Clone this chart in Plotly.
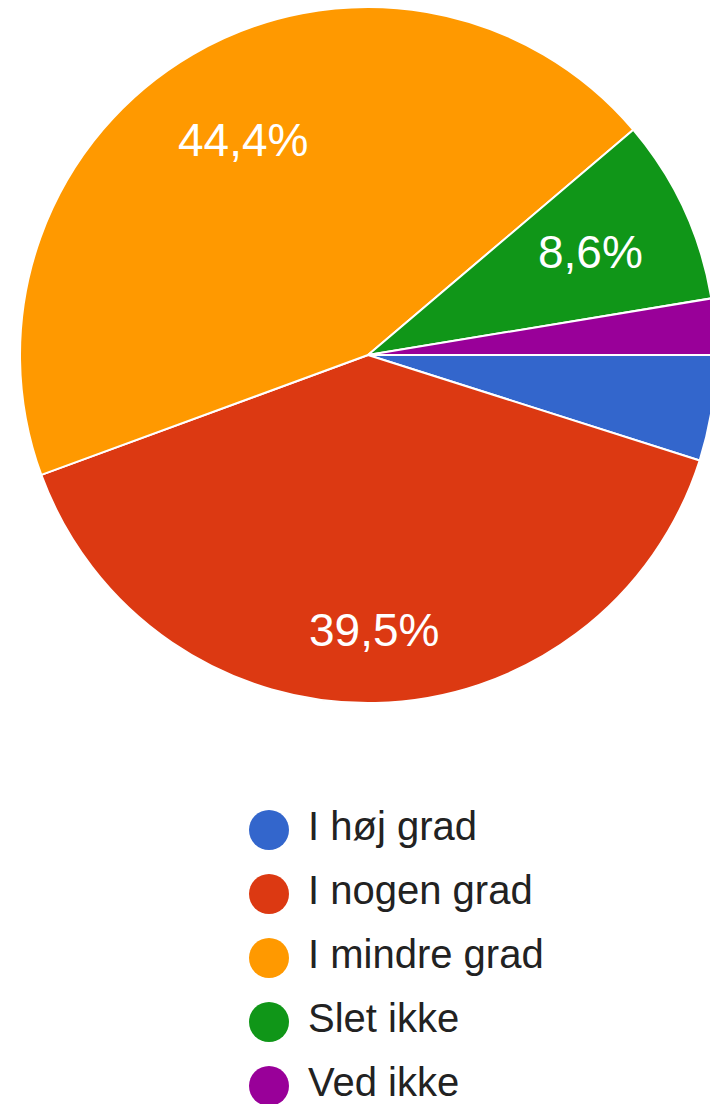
import math
import plotly.graph_objects as go

# Data
categories = ["I høj grad", "I nogen grad", "I mindre grad", "Slet ikke", "Ved ikke"]
values = [4.9, 39.5, 44.4, 8.6, 2.6]
colors = ["#3366CC", "#DC3912", "#FF9900", "#109618", "#990099"]

FONT = "Arial, 'Liberation Sans', Arimo, sans-serif"

# Page body margin is removed (see post_script), so window px == figure px.
OFF = 0
FW, FH = 720, 1104          # figure a bit wider than window: pie is cropped on the right
total = sum(values)

# Pie geometry in window pixels
cx, cy, r = 368, 355, 348
fx, fy = cx - OFF, cy - OFF

fig = go.Figure()
fig.add_trace(go.Pie(
    labels=categories,
    values=values,
    sort=False,
    direction="clockwise",
    rotation=90,
    marker=dict(colors=colors, line=dict(color="white", width=2)),
    textinfo="none",
    showlegend=False,
    hoverinfo="label+percent",
    domain=dict(x=[max(0, (fx - r) / FW), min(1, (fx + r) / FW)],
                y=[max(0, (FH - fy - r) / FH), min(1, (FH - fy + r) / FH)]),
))

# Percentage labels (Google-style placement: outer corner of text box at ~0.86 R)
PCT_SIZE = 46
EM = {"%": 0.889, ",": 0.278}
def text_w(s):
    return sum(EM.get(ch, 0.556) for ch in s) * PCT_SIZE

R_OUT = 0.862 * r
start = 0.0  # degrees from 3 o'clock, clockwise
for v in values:
    frac = v / total
    span = 360 * frac
    mid = start + span / 2
    start += span
    if frac < 0.05:
        continue
    label = f"{frac * 100:.1f}%".replace(".", ",")
    th = math.radians(mid)
    ux, uy = math.cos(th), math.sin(th)   # screen: y down
    hw, hh = text_w(label) / 2, PCT_SIZE * 0.36
    sx = hw if ux >= 0 else -hw
    sy = hh if uy >= 0 else -hh
    b = ux * sx + uy * sy
    c = sx * sx + sy * sy - R_OUT ** 2
    d = -b + math.sqrt(b * b - c)
    px, py = cx + d * ux, cy + d * uy
    fig.add_annotation(
        x=(px - OFF) / FW, y=1 - (py - OFF) / FH, xref="paper", yref="paper",
        text=label, showarrow=False, xanchor="center", yanchor="middle",
        font=dict(family=FONT, size=PCT_SIZE, color="white"),
    )

# Custom legend with large circles
idx = list(range(len(categories)))
fig.add_trace(go.Scatter(
    x=[0] * len(categories), y=idx, mode="markers",
    marker=dict(size=40, color=colors, line=dict(width=0)),
    showlegend=False, hoverinfo="skip",
))
fig.add_trace(go.Scatter(
    x=[39] * len(categories), y=idx, mode="text",
    text=categories, textposition="middle right",
    textfont=dict(family=FONT, size=40, color="#222222"),
    showlegend=False, hoverinfo="skip",
))

leg_x0, leg_y0, leg_dy = 269 - OFF, 830 - OFF, 64
fig.update_layout(
    width=FW, height=FH,
    margin=dict(l=0, r=0, t=0, b=0),
    paper_bgcolor="white", plot_bgcolor="rgba(0,0,0,0)",
    separators=",.",
    xaxis=dict(visible=False, range=[-leg_x0, FW - leg_x0], fixedrange=True),
    yaxis=dict(visible=False,
               range=[(FH - leg_y0) / leg_dy, -leg_y0 / leg_dy],
               fixedrange=True),
)

fig.write_html(
    "out.html",
    config={"displayModeBar": False},
    post_script="document.body.style.margin='0';"
                "document.body.style.overflow='hidden';",
)
